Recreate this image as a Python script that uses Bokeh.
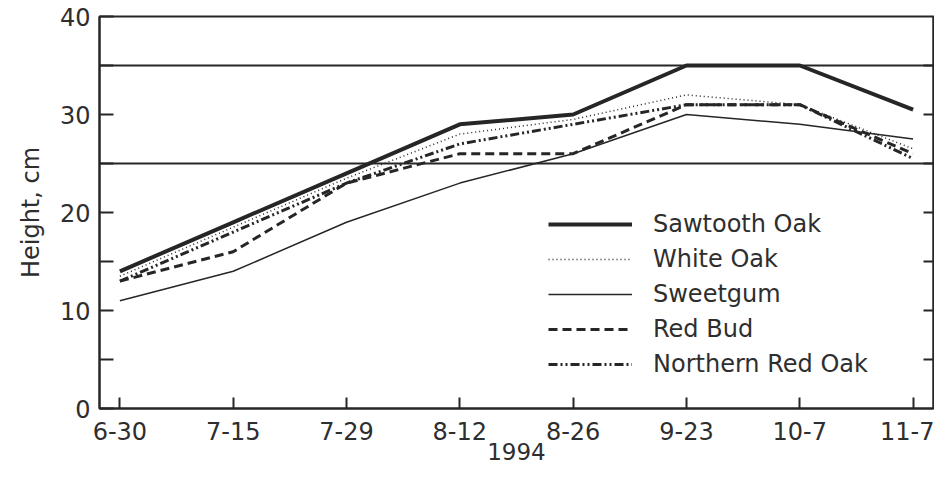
from bokeh.plotting import figure
from bokeh.models import (Range1d, FixedTicker, LinearAxis, Span, Legend, LegendItem)
from bokeh.embed import file_html
from bokeh.resources import INLINE

dates = ["6-30", "7-15", "7-29", "8-12", "8-26", "9-23", "10-7", "11-7"]
x_idx = list(range(len(dates)))

sawtooth_oak = [14, 19, 24, 29, 30, 35, 35, 30.5]
white_oak = [13.5, 18.5, 23.5, 28, 29.5, 32, 31, 26.5]
sweetgum = [11, 14, 19, 23, 26, 30, 29, 27.5]
red_bud = [13, 16, 23, 26, 26, 31, 31, 26]
northern_red_oak = [13, 18, 23, 27, 29, 31, 31, 25.5]

ref_levels = [25, 35]
y_major = [0, 10, 20, 30, 40]
y_minor = [5, 15, 25, 35]
y_right_ticks = [5, 10, 15, 20, 25, 30, 35]

FONT = "DejaVu Sans"
INK = "#262626"
TXT = "#2e2e2e"

p = figure(width=934, height=466, output_backend="svg", toolbar_location=None,
           x_range=Range1d(-0.18, 7.18), y_range=Range1d(0, 40),
           min_border_left=99, min_border_right=1, min_border_top=16, min_border_bottom=58)
p.grid.visible = False
p.outline_line_color = INK
p.outline_line_width = 2
p.background_fill_color = "white"
p.border_fill_color = "white"

# x axis
xa = p.xaxis[0]
xa.ticker = FixedTicker(ticks=x_idx)
xa.major_label_overrides = {i: d for i, d in zip(x_idx, dates)}
xa.major_tick_in = 11
xa.major_tick_out = 0
xa.minor_tick_line_color = None
xa.axis_line_width = 2
xa.axis_line_color = INK
xa.major_tick_line_color = INK
xa.major_tick_line_width = 2
xa.major_label_text_font = FONT
xa.major_label_text_font_size = "24px"
xa.major_label_text_color = TXT
xa.major_label_standoff = 13
xa.axis_label = "1994"
xa.axis_label_text_font = FONT
xa.axis_label_text_font_style = "normal"
xa.axis_label_text_font_size = "23px"
xa.axis_label_text_color = TXT
xa.axis_label_standoff = 0

# y axis
ya = p.yaxis[0]
ya.ticker = FixedTicker(ticks=y_major, minor_ticks=y_minor)
ya.major_tick_in = 14
ya.major_tick_out = 0
ya.minor_tick_in = 14
ya.minor_tick_out = 0
ya.axis_line_width = 2
ya.axis_line_color = INK
ya.major_tick_line_color = INK
ya.minor_tick_line_color = INK
ya.major_tick_line_width = 2
ya.minor_tick_line_width = 2
ya.major_label_text_font = FONT
ya.major_label_text_font_size = "24px"
ya.major_label_text_color = TXT
ya.major_label_standoff = 9
ya.axis_label = "Height, cm"
ya.axis_label_text_font = FONT
ya.axis_label_text_font_style = "normal"
ya.axis_label_text_font_size = "24px"
ya.axis_label_text_color = TXT
ya.axis_label_standoff = 12

# right axis: ticks only
ra = LinearAxis(ticker=FixedTicker(ticks=[], minor_ticks=y_right_ticks))
ra.minor_tick_in = 10
ra.minor_tick_out = 0
ra.minor_tick_line_color = INK
ra.minor_tick_line_width = 2
ra.major_tick_line_color = None
ra.axis_line_color = INK
ra.axis_line_width = 2
ra.major_label_text_font_size = "0px"
p.add_layout(ra, "right")

for lv in ref_levels:
    p.add_layout(Span(location=lv, dimension="width", line_color=INK, line_width=2))

r1 = p.line(x_idx, sawtooth_oak, line_color=INK, line_width=4)
r2 = p.line(x_idx, white_oak, line_color=INK, line_width=1.5, line_dash="1 3")
r3 = p.line(x_idx, sweetgum, line_color=INK, line_width=1.5)
r4 = p.line(x_idx, red_bud, line_color=INK, line_width=3, line_dash="9 5")
r5 = p.line(x_idx, northern_red_oak, line_color=INK, line_width=3, line_dash="9 3 2 3 2 3")

legend = Legend(items=[
    LegendItem(label="Sawtooth Oak", renderers=[r1]),
    LegendItem(label="White Oak", renderers=[r2]),
    LegendItem(label="Sweetgum", renderers=[r3]),
    LegendItem(label="Red Bud", renderers=[r4]),
    LegendItem(label="Northern Red Oak", renderers=[r5]),
], location=(449, 30))
legend.glyph_width = 84
legend.glyph_height = 20
legend.label_height = 20
legend.spacing = 7
legend.label_standoff = 21
legend.padding = 0
legend.margin = 0
legend.border_line_color = None
legend.background_fill_alpha = 0
legend.label_text_font = FONT
legend.label_text_font_size = "24px"
legend.label_text_color = TXT
p.add_layout(legend)

open("out.html", "w").write(file_html(p, INLINE))
